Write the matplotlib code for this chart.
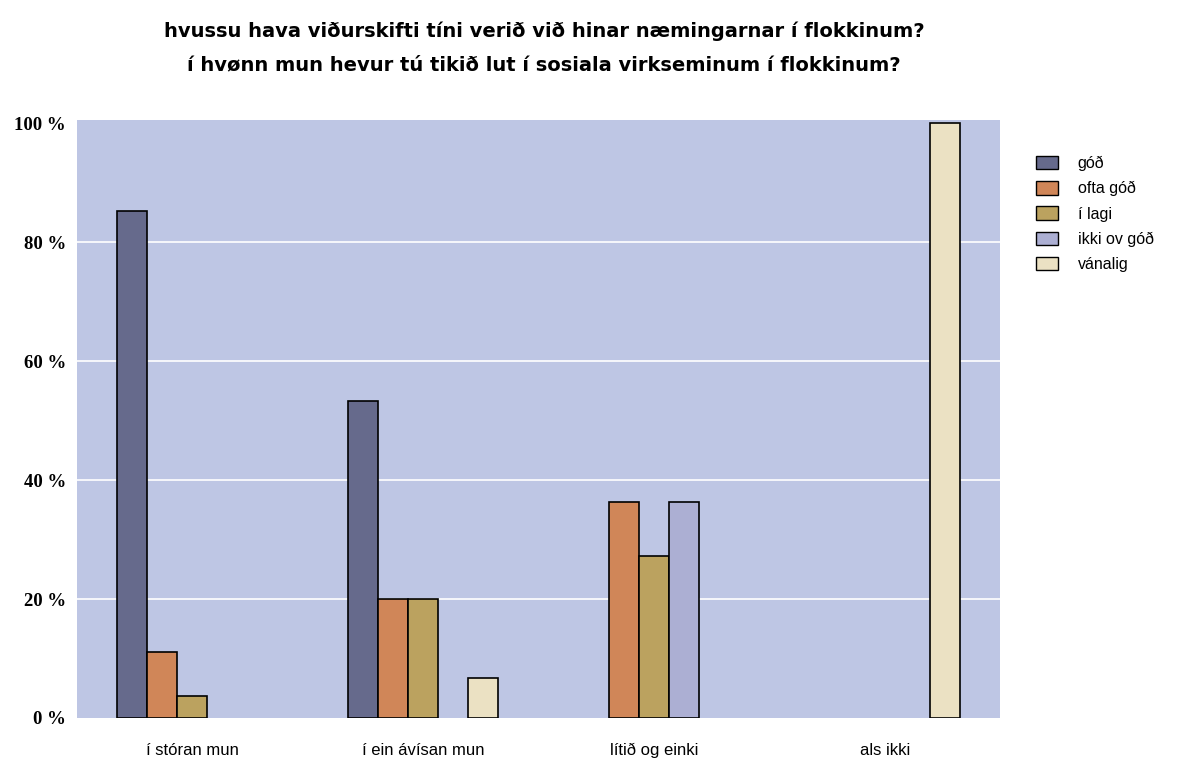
import numpy as np
import matplotlib as mlp
mlp.use('Agg')
import matplotlib.pyplot as plt
import matplotlib.patches as patch

# ---- data (percent) ----
groups = ['í stóran mun', 'í ein ávísan mun', 'lítið og einki', 'als ikki']
series = ['góð', 'ofta góð', 'í lagi', 'ikki ov góð', 'vánalig']
good = [85.2, 53.3, 0, 0]
often_good = [11.1, 20.0, 36.4, 0]
ok = [3.7, 20.0, 27.3, 0]
not_good = [0, 0, 36.4, 0]
bad = [0, 6.7, 0, 100]
colors = ['#666a8c', '#d08658', '#bba25f', '#acafd3', '#ebe1c3']

title = ('hvussu hava viðurskifti tíni verið við hinar næmingarnar í flokkinum?\n'
         'í hvønn mun hevur tú tikið lut í sosiala virkseminum í flokkinum?')

fig = plt.figure(figsize=(11.88, 7.58), dpi=100)
ax = fig.add_axes([0.0648, 0.0528, 0.777, 0.789])
ax.set_facecolor('#bec6e4')

x = np.arange(len(groups))
w = 0.13
values = [good, often_good, ok, not_good, bad]
for i, (vals, name, c) in enumerate(zip(values, series, colors)):
    vals = np.array(vals, dtype=float)
    lw = [1.2 if v > 0 else 0 for v in vals]  # no outline for empty bars
    ax.bar(x + (i - 2) * w, vals, w, color=c, edgecolor='black',
           linewidth=lw, label=name, zorder=3)

# white gridlines (none at the top edge)
for g in range(20, 100, 20):
    ax.axhline(g, color='white', linewidth=1.2, zorder=1)

ax.set_xlim(-0.5, len(groups) - 0.5)
ax.set_ylim(0, 100.6)
ax.set_yticks(range(0, 101, 20))
ax.set_yticklabels([f'{v} %' for v in range(0, 101, 20)],
                   fontfamily='Liberation Serif', fontweight='bold', fontsize=13.5)
ax.set_xticks(x)
ax.set_xticklabels(groups, fontfamily='Liberation Sans', fontsize=12)
ax.tick_params(axis='both', length=0)
ax.tick_params(axis='x', pad=18)
ax.tick_params(axis='y', pad=8)
for s in ax.spines.values():
    s.set_visible(False)

fig.text(0.458, 0.971, title, ha='center', va='top', fontsize=14,
         fontweight='bold', linespacing=1.9, fontfamily='DejaVu Sans')

handles = [patch.Patch(facecolor=c, edgecolor='black', linewidth=1.0) for c in colors]
fig.legend(handles, series, loc='upper left', bbox_to_anchor=(0.86, 0.813),
           frameon=False, handlelength=1.4, handleheight=0.9,
           labelspacing=0.62, handletextpad=1.2,
           prop={'family': 'Liberation Sans', 'size': 11.5})

fig.savefig('out.png', dpi=100)
